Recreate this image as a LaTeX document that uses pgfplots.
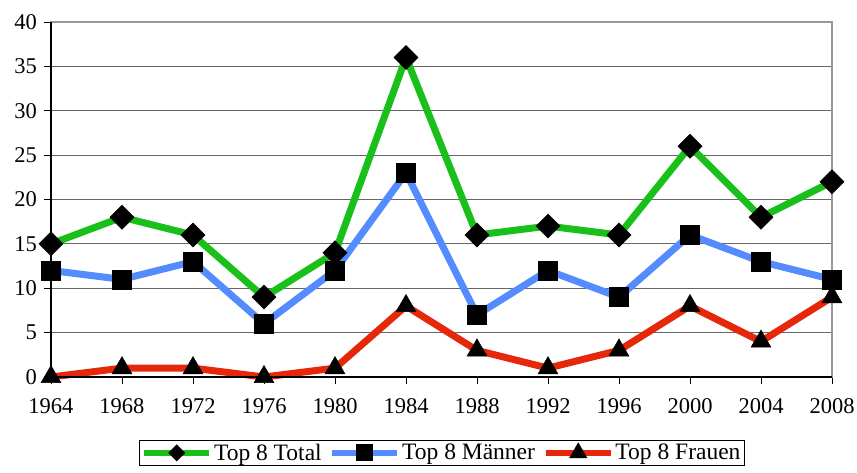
\documentclass[border=0pt]{standalone}
\usepackage{pgfplots}
\pgfplotsset{compat=1.18}
\usepackage{fontspec}
\setmainfont{Liberation Serif}
\definecolor{cgreen}{RGB}{26,192,26}
\definecolor{cblue}{RGB}{84,140,255}
\definecolor{cred}{RGB}{230,40,10}
\begin{document}
\begin{tikzpicture}
\useasboundingbox (-51pt,-96pt) rectangle (806pt,377pt);
\begin{axis}[
  at={(0pt,0pt)}, anchor=south west,
  scale only axis,
  width=781pt, height=355pt,
  xmin=1964, xmax=2008, ymin=0, ymax=40,
  xtick={1964,1968,...,2008},
  ytick={0,5,...,40},
  xticklabel style={/pgf/number format/1000 sep={}},
  /pgf/number format/assume math mode=true,
  font=\fontsize{22.5}{26}\selectfont,
  tick align=outside, tick pos=left,
  major tick length=7pt,
  tick style={black, line width=0.8pt},
  ymajorgrids,
  grid style={draw=black!60, line width=0.9pt},
  axis line style={draw=black!40, line width=1.5pt},
  xticklabel style={yshift=-11.5pt},
  yticklabel style={xshift=-3.5pt},
  legend style={at={(0.50,-0.1775)}, anchor=north, legend columns=3,
    draw=black, line width=0.6pt, inner sep=2pt,
    font=\fontsize{23.5}{27}\selectfont,
    nodes={inner sep=1.5pt},
    /tikz/every odd column/.append style={column sep=0pt},
    /tikz/every even column/.append style={column sep=6pt}},
  legend image code/.code={
    \draw[#1, mark=none] (0pt,0pt) -- (65pt,0pt);
    \draw[#1, draw opacity=0] plot coordinates {(32.5pt,0pt)};
  },
  clip=false,
]
\addplot[forget plot, cgreen, line width=7pt, mark=square*, mark options={rotate=45, fill=black, draw=black, line width=0.5pt, solid}, mark size=8.5pt]
coordinates {(1964,15)(1968,18)(1972,16)(1976,9)(1980,14)(1984,36)(1988,16)(1992,17)(1996,16)(2000,26)(2004,18)(2008,22)};
\addplot[forget plot, cblue, line width=7pt, mark=square*, mark options={fill=black, draw=black, line width=0.5pt, solid}, mark size=9.5pt]
coordinates {(1964,12)(1968,11)(1972,13)(1976,6)(1980,12)(1984,23)(1988,7)(1992,12)(1996,9)(2000,16)(2004,13)(2008,11)};
\addplot[forget plot, cred, line width=7pt, mark=triangle*, mark options={fill=black, draw=black, line width=0.5pt, solid}, mark size=11.5pt]
coordinates {(1964,0)(1968,1)(1972,1)(1976,0)(1980,1)(1984,8)(1988,3)(1992,1)(1996,3)(2000,8)(2004,4)(2008,9)};
\addlegendimage{cgreen, line width=6.5pt, mark=square*, mark options={rotate=45, fill=black, draw=black, line width=0.5pt, solid}, mark size=6pt}
\addlegendentry{Top 8 Total}
\addlegendimage{cblue, line width=6.5pt, mark=square*, mark options={fill=black, draw=black, line width=0.5pt, solid}, mark size=8.5pt}
\addlegendentry{Top 8 M\"anner}
\addlegendimage{cred, line width=6.5pt, mark=triangle*, mark options={fill=black, draw=black, line width=0.5pt, solid}, mark size=10.5pt}
\addlegendentry{Top 8 Frauen}
\draw[black, line width=1.2pt] (rel axis cs:0,0) -- (rel axis cs:1,0);
\draw[black, line width=1.2pt] (rel axis cs:0,0) -- (rel axis cs:0,1);
\end{axis}
\end{tikzpicture}
\end{document}
